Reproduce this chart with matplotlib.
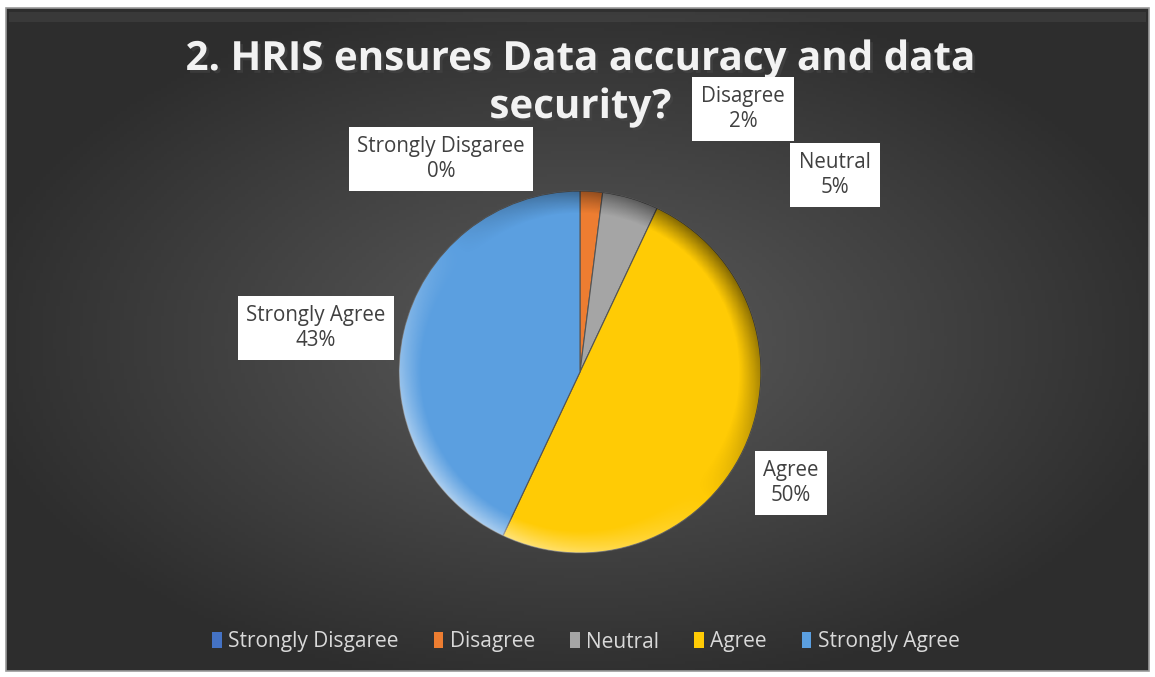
import matplotlib.pyplot as plt
import matplotlib.patheffects as pe
from matplotlib.patches import Rectangle, Circle
import numpy as np

plt.rcParams['font.family'] = ['Open Sans', 'DejaVu Sans']

categories = ["Strongly Disgaree", "Disagree", "Neutral", "Agree", "Strongly Agree"]
values = [0, 2, 5, 50, 43]
colors = ["#4472C4", "#ED7D31", "#A5A5A5", "#FFCB05", "#5B9FE0"]
title_lines = ["2. HRIS ensures Data accuracy and data", "security?"]

# where the data label boxes sit (pixels from top-left)
label_pos = [(441, 159), (743, 109), (835, 175), (791, 483), (316, 328)]

W, H = 1155, 677
fig = plt.figure(figsize=(W / 100, H / 100), dpi=100, facecolor="white")
ax = fig.add_axes([0, 0, 1, 1])

# dark chart area with radial gradient
x0, y0, x1, y1 = 6, 8, 1149, 671
yy, xx = np.mgrid[0:200, 0:340]
d = np.sqrt(((xx - 170) / 170) ** 2 + ((yy - 100) / 100) ** 2)
shade = np.clip(0.36 - 0.17 * d, 0.18, 0.36)
img = np.dstack([shade, shade, shade])
ax.imshow(img, extent=(x0, x1, H - y1, H - y0), aspect="auto", zorder=0)
ax.add_patch(Rectangle((x0, H - y1), x1 - x0, y1 - y0, fill=False,
                       edgecolor="#9a9a9a", lw=1.2, zorder=1))
ax.add_patch(Rectangle((x0 + 3, H - y0 - 14), x1 - x0 - 6, 10, facecolor="white",
                       alpha=0.06, edgecolor="none", zorder=1))

# pie
cx, cy, r = 580, H - 372, 181
wedges, _ = ax.pie(values, colors=colors, startangle=90, counterclock=False,
                   center=(cx, cy), radius=r, frame=True,
                   wedgeprops=dict(edgecolor="#555555", linewidth=0.8))
for w in wedges:
    w.set_zorder(3)
ax.set_xlim(0, W)
ax.set_ylim(0, H)
ax.axis("off")

# bevel shading over the pie
gy, gx = np.mgrid[-1:1:300j, -1:1:300j]
rr = np.sqrt(gx ** 2 + gy ** 2)
edge = np.clip((rr - 0.88) / 0.12, 0, 1)
light = -gx * 0.5 + gy * 0.5
ov = np.zeros((300, 300, 4))
ov[..., :3] = np.where(light[..., None] > 0, 1.0, 0.0)
ov[..., 3] = edge * np.abs(light) * 0.7
im = ax.imshow(ov, extent=(cx - r, cx + r, cy - r, cy + r), zorder=4)
im.set_clip_path(Circle((cx, cy), r, transform=ax.transData))

# data labels
for name, v, (px, py) in zip(categories, values, label_pos):
    ax.text(px, H - py, f"{name}\n{v}%", ha="center", va="center", fontsize=14.8,
            color="#404040", linespacing=1.3, zorder=6,
            bbox=dict(boxstyle="square,pad=0.42", facecolor="white", edgecolor="none"))

# title
shadow = [pe.withSimplePatchShadow(offset=(2, -2), alpha=0.5)]
for line, base in zip(title_lines, [70, 118]):
    ax.text(580, H - base, line, ha="center", va="baseline", fontsize=29,
            fontweight="bold", color="#f2f2f2", zorder=5, path_effects=shadow)

# legend
handles = [Rectangle((0, 0), 1, 1, facecolor=c, edgecolor="none") for c in colors]
leg = fig.legend(handles, categories, loc="center", bbox_to_anchor=(586 / W, 1 - 642 / H),
                 ncol=5, frameon=False, fontsize=15, labelcolor="#d9d9d9",
                 handlelength=0.45, handleheight=0.8, handletextpad=0.3, columnspacing=1.7)

fig.savefig("out.png", dpi=100, facecolor="white")
